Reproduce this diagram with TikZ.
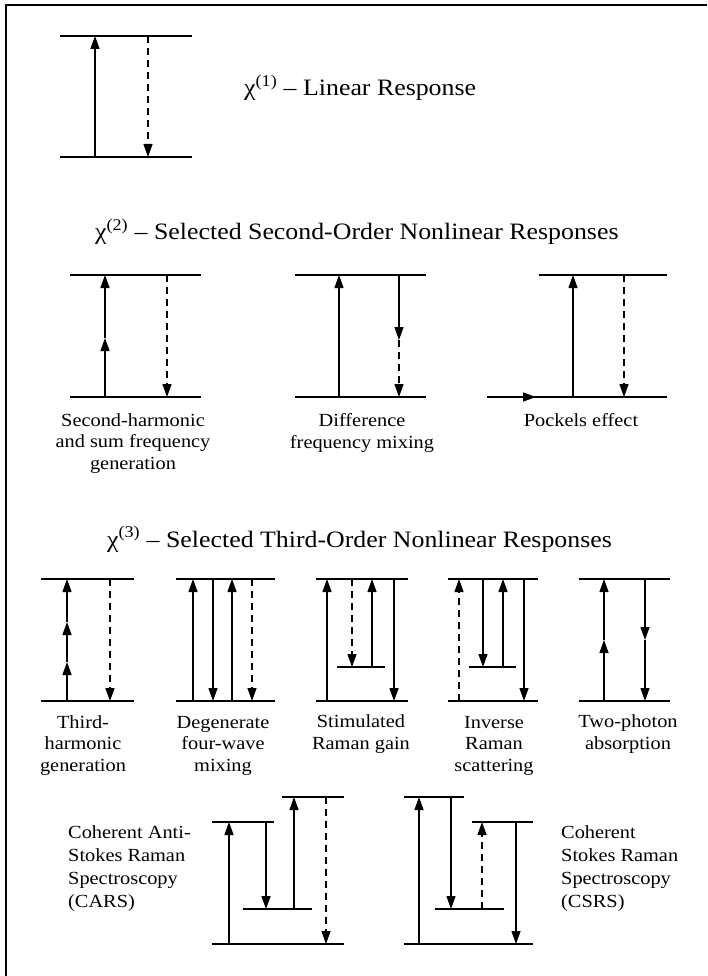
\documentclass[tikz,border=0pt]{standalone}
\usepackage{fontspec}
\setmainfont{Liberation Serif}[FakeStretch=1.1]
\usetikzlibrary{arrows.meta}
\begin{document}
\begin{tikzpicture}[x=1pt,y=-1pt,
  level/.style={line width=2.4pt},
  tr/.style={line width=1.3pt,-{Triangle[length=13pt,width=9pt]}},
  dsh/.style={dash pattern=on 7pt off 5pt},
  lab/.style={font=\fontsize{18.5}{21.5}\selectfont,align=center,anchor=base,inner sep=0pt},
  side/.style={font=\fontsize{18.5}{23}\selectfont,align=left,anchor=base west,inner sep=0pt},
  ttl/.style={font=\fontsize{23.5}{26}\selectfont,anchor=base west,inner sep=0pt}]
\useasboundingbox (0,0) rectangle (707,976);
\fill[white] (0,0) rectangle (707,976);
% frame
\draw[line width=2pt] (6,976) -- (6,5) -- (707,5);

% ---- first order ----
\draw[level] (60,36) -- (192,36);
\draw[level] (60,157) -- (192,157);
\draw[tr] (95,157) -- (95,36);
\draw[tr,dsh] (148,36) -- (148,157);
\node[ttl] (t1) at (244,96) {χ\textsuperscript{(1)} – Linear Response};

% ---- second order ----
\node[ttl] (t2) at (95,240) {χ\textsuperscript{(2)} – Selected Second-Order Nonlinear Responses};
% second harmonic
\draw[level] (70,275) -- (201,275);
\draw[level] (70,397) -- (201,397);
\draw[tr] (105,397) -- (105,338);
\draw[tr] (105,338) -- (105,275);
\draw[tr,dsh] (167,275) -- (167,397);
% difference frequency
\draw[level] (295,275) -- (426,275);
\draw[level] (295,397) -- (426,397);
\draw[tr] (339,397) -- (339,275);
\draw[tr] (399,275) -- (399,340);
\draw[tr,dsh] (399,340) -- (399,397);
% Pockels
\draw[level] (539,275) -- (667,275);
\draw[level] (487,397) -- (667,397);
\draw[tr] (487,397) -- (536,397);
\draw[tr] (573,397) -- (573,275);
\draw[tr,dsh] (624,275) -- (624,397);

\node[lab] (l21) at (133,469) {Second-harmonic\\and sum frequency\\generation};
\node[lab] (l22) at (362,448) {Difference\\frequency mixing};
\node[lab] (l23) at (581,426) {Pockels effect};

% ---- third order ----
\node[ttl] (t3) at (107,547) {χ\textsuperscript{(3)} – Selected Third-Order Nonlinear Responses};
% third harmonic
\draw[level] (41,579) -- (134,579);
\draw[level] (41,701) -- (134,701);
\draw[tr] (67,701) -- (67,662);
\draw[tr] (67,662) -- (67,622);
\draw[tr] (67,622) -- (67,579);
\draw[tr,dsh] (110,579) -- (110,701);
% degenerate four-wave mixing
\draw[level] (176,579) -- (275,579);
\draw[level] (176,701) -- (275,701);
\draw[tr] (193,701) -- (193,579);
\draw[tr] (213,579) -- (213,701);
\draw[tr] (232,701) -- (232,579);
\draw[tr,dsh] (252,579) -- (252,701);
% stimulated Raman gain
\draw[level] (316,579) -- (408,579);
\draw[level] (316,701) -- (408,701);
\draw[level] (337,667) -- (385,667);
\draw[tr] (327,701) -- (327,579);
\draw[tr,dsh] (352,579) -- (352,667);
\draw[tr] (372,667) -- (372,579);
\draw[tr] (394,579) -- (394,701);
% inverse Raman
\draw[level] (448,579) -- (538,579);
\draw[level] (448,701) -- (538,701);
\draw[level] (469,667) -- (516,667);
\draw[tr,dsh] (459,701) -- (459,579);
\draw[tr] (483,579) -- (483,667);
\draw[tr] (503,667) -- (503,579);
\draw[tr] (524,579) -- (524,701);
% two-photon absorption
\draw[level] (579,579) -- (670,579);
\draw[level] (579,701) -- (670,701);
\draw[tr] (604,701) -- (604,640);
\draw[tr] (604,640) -- (604,579);
\draw[tr] (645,579) -- (645,640);
\draw[tr] (645,640) -- (645,701);

\node[lab] (l31) at (83,771) {Third-\\harmonic\\generation};
\node[lab] (l32) at (223,771) {Degenerate\\four-wave\\mixing};
\node[lab] (l33) at (361,749) {Stimulated\\Raman gain};
\node[lab] (l34) at (494,771) {Inverse\\Raman\\scattering};
\node[lab] (l35) at (628,749) {Two-photon\\absorption};

% ---- CARS ----
\draw[level] (282,797) -- (344,797);
\draw[level] (212,822) -- (274,822);
\draw[level] (243,909) -- (312,909);
\draw[level] (212,944) -- (344,944);
\draw[tr] (229,944) -- (229,822);
\draw[tr] (266,822) -- (266,909);
\draw[tr] (294,909) -- (294,797);
\draw[tr,dsh] (326,797) -- (326,944);
\node[side] (cars) at (68,907) {Coherent Anti-\\Stokes Raman\\Spectroscopy\\(CARS)};

% ---- CSRS ----
\draw[level] (404,797) -- (464,797);
\draw[level] (472,822) -- (533,822);
\draw[level] (435,909) -- (504,909);
\draw[level] (404,944) -- (533,944);
\draw[tr] (419,944) -- (419,797);
\draw[tr] (451,797) -- (451,909);
\draw[tr,dsh] (482,909) -- (482,822);
\draw[tr] (516,822) -- (516,944);
\node[side] (csrs) at (561,907) {Coherent\\Stokes Raman\\Spectroscopy\\(CSRS)};
\end{tikzpicture}
\end{document}
